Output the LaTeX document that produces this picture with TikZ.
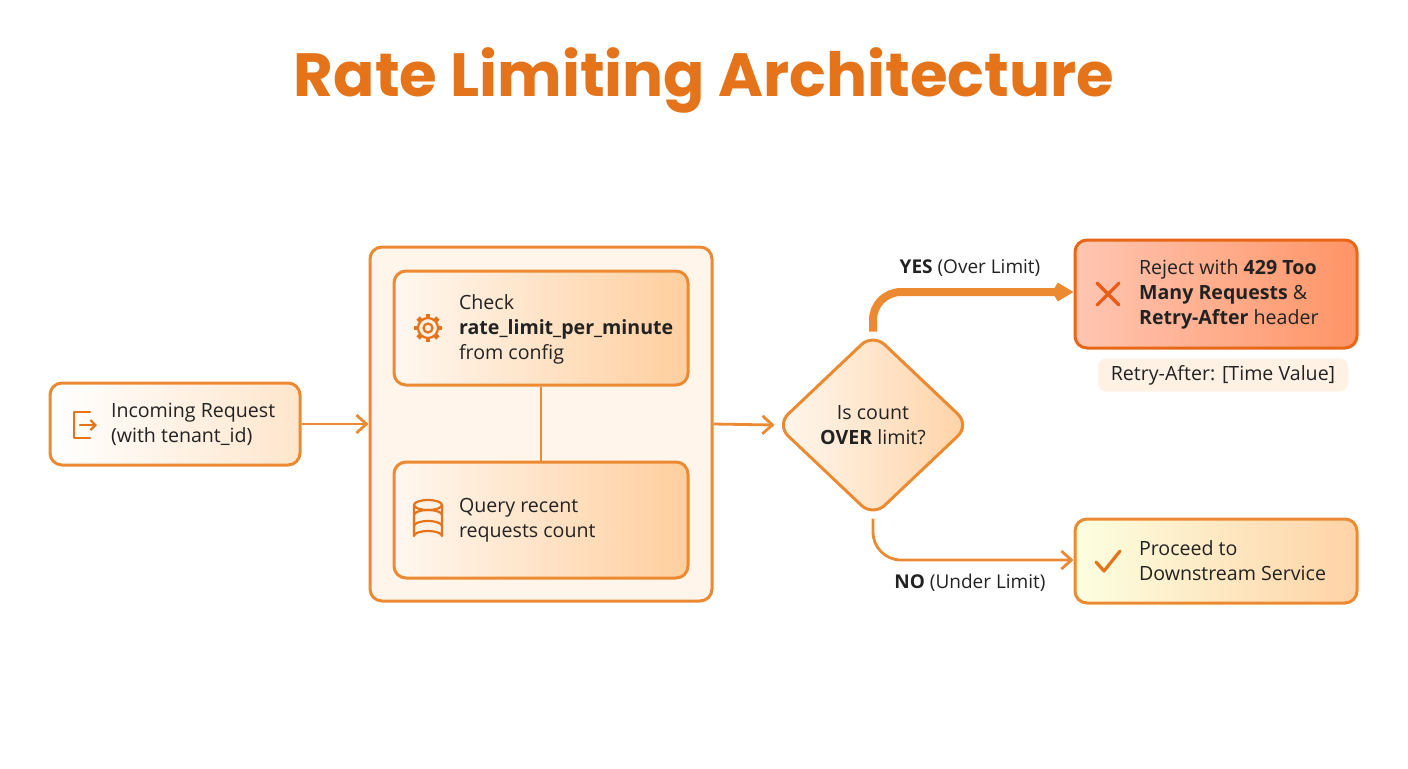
\documentclass[tikz,border=0pt]{standalone}
\usepackage{fontspec}
\setmainfont{Open Sans}
\newfontfamily\titlefont{Poppins}
\usetikzlibrary{shapes.geometric,arrows.meta}
\definecolor{org}{HTML}{EC8A32}
\definecolor{dorg}{HTML}{E5731A}
\definecolor{txt}{HTML}{222222}
\tikzset{
 box/.style={draw=org,line width=1.5pt,rounded corners=6pt},
 lbl/.style={text=txt,font=\fontsize{9.8}{12.5}\selectfont,align=left,anchor=west},
 conn/.style={draw=org,line width=1.4pt,-{Straight Barb[length=5pt,width=9pt]}},
 ico/.style={draw=dorg,line width=1.1pt,line cap=round,line join=round},
}
\begin{document}
\begin{tikzpicture}[x=0.5pt,y=-0.5pt]
\useasboundingbox (0,0) rectangle (1408,768);
\node[font=\titlefont\bfseries\fontsize{30.5}{36}\selectfont,text=dorg] (title) at (704,80) {Rate Limiting Architecture};
% incoming
\node[box,left color=white,right color=orange!20,minimum width=125pt,minimum height=41pt] (in) at (175,424) {};
\node[lbl] (intext) at (104,424) {Incoming Request\\(with tenant\_id)};
\draw[ico] (90,412) -- (74,412) -- (74,438) -- (90,438);
\draw[ico,-{Straight Barb[length=2.5pt,width=5pt]}] (80,425) -- (97,425);
% container
\node[box,fill=orange!8,minimum width=171pt,minimum height=177pt] (cont) at (541,424) {};
\node[box,left color=orange!6,right color=orange!38,minimum width=147pt,minimum height=57pt] (b1) at (541,328) {};
\node[box,left color=orange!6,right color=orange!38,minimum width=147pt,minimum height=58pt] (b2) at (541,520) {};
\draw[org,line width=1.4pt] (b1.south) -- (b2.north);
\node[lbl] (t1) at (452,329) {Check\\\textbf{rate\_limit\_per\_minute}\\from config};
\node[lbl] (t2) at (452,520) {Query recent\\requests count};
% gear
\foreach \a in {0,45,...,315} \draw[dorg,line width=2.4pt] (428,328) ++(\a:9) -- ++(\a:5);
\draw[ico,fill=white!90!orange] (428,328) circle (10);
\draw[ico] (428,328) circle (4.5);
% db
\draw[ico] (414,505) -- (414,536) arc[start angle=180,end angle=360,x radius=14,y radius=5] -- (442,505);
\draw[ico] (428,505) ellipse[x radius=14,y radius=5];
\draw[ico] (414,515) arc[start angle=180,end angle=360,x radius=14,y radius=5];
\draw[ico] (414,526) arc[start angle=180,end angle=360,x radius=14,y radius=5];
% diamond
\node[diamond,draw=org,line width=1.5pt,rounded corners=8pt,left color=orange!6,right color=orange!35,minimum width=97pt,minimum height=92pt,inner sep=0pt] (dia) at (873,425) {};
\node[text=txt,font=\fontsize{9.8}{12.5}\selectfont,align=center] (dt) at (873,425) {Is count\\\textbf{OVER} limit?};
\draw[conn] (in.east) -- (cont.west);
\draw[conn] (cont.east) -- (dia.west);
% reject
\node[box,draw=dorg!90!red,left color=orange!50!red!30,right color=orange!60!red!60,minimum width=141pt,minimum height=54pt] (rej) at (1216,294) {};
\node[lbl] (rt) at (1132,294) {Reject with \textbf{429 Too}\\\textbf{Many Requests} \&\\\textbf{Retry-After} header};
\draw[dorg!80!red,line width=1.6pt,line cap=round] (1097,283) -- (1119,305) (1119,283) -- (1097,305);
\node[fill=orange!10,rounded corners=4pt,minimum width=125pt,minimum height=16pt,text=txt,font=\fontsize{9.8}{12}\selectfont] (ra) at (1223,375) {Retry-After: [Time Value]};
% proceed
\node[box,left color=green!10!yellow!12,right color=orange!35,minimum width=141pt,minimum height=42pt] (pro) at (1216,561) {};
\node[lbl] (pt) at (1132,561) {Proceed to\\Downstream Service};
\draw[ico,line width=1.6pt] (1096,562) -- (1104,571) -- (1120,551);
% yes / no
\coordinate (yc) at (873,292);
\draw[draw=org,line width=4pt,rounded corners=14pt,-{Straight Barb[length=5pt,width=6pt]}] (dia.north) -- (yc) -- (rej.west |- yc);
\coordinate (nc) at (873,560);
\draw[conn,rounded corners=14pt] (dia.south) -- (nc) -- (pro.west |- nc);
\node[text=txt,font=\fontsize{9.5}{12}\selectfont] (yl) at (970,268) {\textbf{YES} (Over Limit)};
\node[text=txt,font=\fontsize{9.5}{12}\selectfont] (nl) at (970,583) {\textbf{NO} (Under Limit)};
\end{tikzpicture}
\end{document}
